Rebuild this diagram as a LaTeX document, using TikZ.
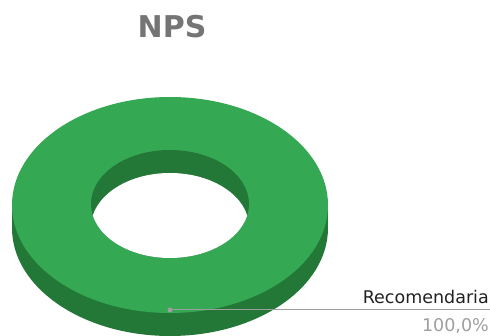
\documentclass[tikz,border=0pt]{standalone}
\usepackage{fontspec}
\setmainfont{DejaVu Sans}
\definecolor{ringtop}{HTML}{34A853}
\definecolor{ringside}{HTML}{237838}
\definecolor{titlegray}{HTML}{757575}
\definecolor{leadgray}{HTML}{9E9E9E}
\definecolor{labeltext}{HTML}{212121}
\tikzset{
  charttitle/.style={font=\fontsize{30}{30}\selectfont\bfseries, text=titlegray, inner sep=0pt, anchor=base},
  slicelabel/.style={font=\fontsize{17.5}{17.5}\selectfont, text=labeltext, inner sep=0pt, anchor=base east},
  slicevalue/.style={font=\fontsize{17.5}{17.5}\selectfont, text=leadgray, inner sep=0pt, anchor=base east},
  leader/.style={draw=leadgray, line width=1pt},
}
\begin{document}
\begin{tikzpicture}[x=1pt, y=-1pt]
\useasboundingbox (0,0) rectangle (490,336);
% side of the ring (extruded depth 23)
\fill[ringside] (170,228) ellipse [x radius=158, y radius=108];
\fill[ringside] (12,205) rectangle (328,228);
% top face of the ring
\fill[ringtop] (170,205) ellipse [x radius=158, y radius=108];
% the hole: inner wall, then the opening seen through it
\fill[ringside] (170,204) ellipse [x radius=79, y radius=54];
\begin{scope}
  \clip (170,204) ellipse [x radius=79, y radius=54];
  \fill[white] (170,227) ellipse [x radius=79, y radius=54];
\end{scope}
% title
\node[charttitle] (title) at (172,38) {NPS};
% slice label with leader line
\coordinate (anchorpt) at (170,310);
\coordinate (leadend) at (490,310);
\node[slicelabel] (lbl) at (489,304) {Recomendaria};
\node[slicevalue] (val) at (489,332) {100,0\%};
\draw[leader] (anchorpt) -- (leadend);
\fill[leadgray] (anchorpt) circle [radius=2.5];
\end{tikzpicture}
\end{document}
